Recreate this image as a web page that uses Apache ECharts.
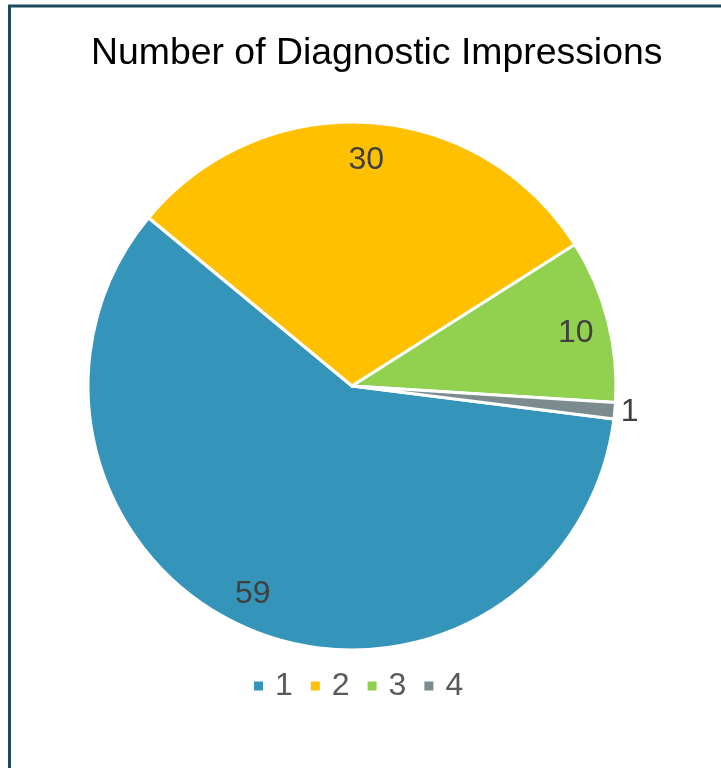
<!DOCTYPE html>
<html>
<head>
<meta charset="utf-8">
<script src="https://cdn.jsdelivr.net/npm/echarts@6/dist/echarts.min.js"></script>
<style>
html,body{margin:0;padding:0;background:#fff;}
#chart{width:721px;height:768px;}
</style>
</head>
<body>
<div id="chart"></div>
<script>
const titleText = 'Number of Diagnostic Impressions';
const categories = ['1', '2', '3', '4'];
const values = [59, 30, 10, 1];
const colors = ['#3494BA', '#FFC000', '#92D050', '#7B8B8E'];
const outsideLabelCategories = ['4'];

const FONT = '"Liberation Sans", Arial, sans-serif';
const chart = echarts.init(document.getElementById('chart'), null, {renderer: 'canvas'});

// small label nudges to mimic Excel "best fit" placement
const labelNudge = {'1': [-9, 0], '3': [4, 4], '4': [0, 1]};

const baseData = categories.map((c, i) => ({
  name: c,
  value: values[i],
  itemStyle: {color: colors[i]}
}));

const labelData = categories.map((c, i) => {
  const item = {name: c, value: values[i], label: {offset: labelNudge[c] || [0, 1]}};
  if (outsideLabelCategories.includes(c)) {
    item.label.position = 'outside';
    item.labelLine = {show: false, length: 1, length2: 0};
  }
  return item;
});

chart.setOption({
  animation: false,
  backgroundColor: '#ffffff',
  title: {
    text: titleText,
    left: 91,
    top: 35,
    padding: 0,
    textStyle: {fontFamily: FONT, fontSize: 37.4, fontWeight: 'normal', color: '#000000'}
  },
  legend: {
    data: categories,
    left: 252,
    top: 670,
    padding: 0,
    itemWidth: 11,
    itemHeight: 11,
    itemGap: 16,
    icon: 'rect',
    textStyle: {fontFamily: FONT, fontSize: 32, color: '#595959', padding: [0, 0, 0, 6]}
  },
  graphic: [{
    type: 'rect',
    silent: true,
    shape: {x: 9.5, y: 6, width: 900, height: 900},
    style: {fill: 'none', stroke: '#1E4A60', lineWidth: 3}
  }],
  series: [
    {
      type: 'pie',
      silent: true,
      center: [352, 386],
      radius: [0, 264],
      startAngle: -7.2,
      clockwise: true,
      avoidLabelOverlap: false,
      label: {show: false},
      labelLine: {show: false},
      itemStyle: {borderColor: '#ffffff', borderWidth: 3},
      data: baseData
    },
    {
      type: 'pie',
      silent: true,
      center: [352, 386],
      radius: [184, 264],
      startAngle: -7.2,
      clockwise: true,
      avoidLabelOverlap: false,
      itemStyle: {color: 'rgba(0,0,0,0)', borderWidth: 0},
      label: {
        show: true,
        position: 'inside',
        formatter: '{c}',
        fontFamily: FONT,
        fontSize: 32,
        color: '#404040'
      },
      labelLine: {show: false},
      data: labelData
    }
  ]
});
</script>
</body>
</html>
